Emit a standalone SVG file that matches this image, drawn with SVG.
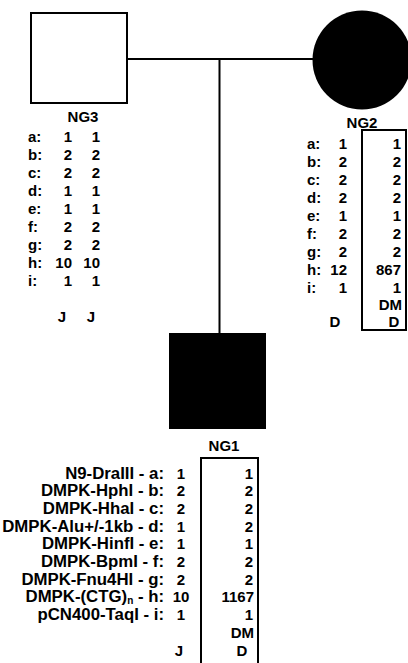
<svg xmlns="http://www.w3.org/2000/svg" width="408" height="663" viewBox="0 0 408 663">
<style>
text{font-family:"Liberation Sans",Arial,sans-serif;font-weight:bold;font-size:15px;fill:#000}
.r{text-anchor:end}
.m{text-anchor:middle}
.lb{font-size:16.8px;text-anchor:end}
.ln{stroke:#000;stroke-width:2;fill:none}
</style>
<rect width="408" height="663" fill="#fff"/>
<g id="connectors">
<line class="ln" x1="127" y1="59" x2="314" y2="59"/>
<line class="ln" x1="219.5" y1="59" x2="219.5" y2="333"/>
</g>
<g id="NG3">
<rect class="ln" x="31" y="13" width="96" height="90"/>
<text class="m" x="83" y="122">NG3</text>
<text x="28" y="141.5">a:</text><text class="r" x="72" y="141.5">1</text><text class="r" x="100" y="141.5">1</text>
<text x="28" y="159.5">b:</text><text class="r" x="72" y="159.5">2</text><text class="r" x="100" y="159.5">2</text>
<text x="28" y="177.5">c:</text><text class="r" x="72" y="177.5">2</text><text class="r" x="100" y="177.5">2</text>
<text x="28" y="195.5">d:</text><text class="r" x="72" y="195.5">1</text><text class="r" x="100" y="195.5">1</text>
<text x="28" y="213.5">e:</text><text class="r" x="72" y="213.5">1</text><text class="r" x="100" y="213.5">1</text>
<text x="28" y="231.5">f:</text><text class="r" x="72" y="231.5">2</text><text class="r" x="100" y="231.5">2</text>
<text x="28" y="249.5">g:</text><text class="r" x="72" y="249.5">2</text><text class="r" x="100" y="249.5">2</text>
<text x="28" y="267.5">h:</text><text class="r" x="72" y="267.5">10</text><text class="r" x="100" y="267.5">10</text>
<text x="28" y="285.5">i:</text><text class="r" x="72" y="285.5">1</text><text class="r" x="100" y="285.5">1</text>
<text class="m" x="62" y="322">J</text><text class="m" x="91" y="322">J</text>
</g>
<g id="NG2">
<circle cx="362" cy="60" r="49.5" fill="#000"/>
<text class="m" x="362" y="127.5">NG2</text>
<rect class="ln" x="362" y="130" width="44" height="200"/>
<text x="307" y="148.5">a:</text><text class="r" x="347" y="148.5">1</text><text class="r" x="401" y="148.5">1</text>
<text x="307" y="166.5">b:</text><text class="r" x="347" y="166.5">2</text><text class="r" x="401" y="166.5">2</text>
<text x="307" y="184.5">c:</text><text class="r" x="347" y="184.5">2</text><text class="r" x="401" y="184.5">2</text>
<text x="307" y="202.5">d:</text><text class="r" x="347" y="202.5">2</text><text class="r" x="401" y="202.5">2</text>
<text x="307" y="220.5">e:</text><text class="r" x="347" y="220.5">1</text><text class="r" x="401" y="220.5">1</text>
<text x="307" y="238.5">f:</text><text class="r" x="347" y="238.5">2</text><text class="r" x="401" y="238.5">2</text>
<text x="307" y="256.5">g:</text><text class="r" x="347" y="256.5">2</text><text class="r" x="401" y="256.5">2</text>
<text x="307" y="274.5">h:</text><text class="r" x="347" y="274.5">12</text><text class="r" x="401" y="274.5">867</text>
<text x="307" y="292.5">i:</text><text class="r" x="347" y="292.5">1</text><text class="r" x="401" y="292.5">1</text>
<text class="r" x="402" y="310">DM</text>
<text class="m" x="335" y="327">D</text><text class="m" x="394" y="327">D</text>
</g>
<g id="NG1">
<rect x="169" y="333" width="97" height="96" fill="#000"/>
<text class="m" x="224" y="450.5">NG1</text>
<path class="ln" d="M201,664 V458 H258 V664"/>
<text class="lb" x="164" y="478.5">N9-DraIII - a:</text><text class="m" x="181" y="478.5">1</text><text class="r" x="253" y="478.5">1</text>
<text class="lb" x="164" y="496.2">DMPK-HphI - b:</text><text class="m" x="181" y="496.2">2</text><text class="r" x="253" y="496.2">2</text>
<text class="lb" x="164" y="513.9">DMPK-HhaI - c:</text><text class="m" x="181" y="513.9">2</text><text class="r" x="253" y="513.9">2</text>
<text class="lb" x="164" y="531.6">DMPK-Alu+/-1kb - d:</text><text class="m" x="181" y="531.6">1</text><text class="r" x="253" y="531.6">2</text>
<text class="lb" x="164" y="549.3">DMPK-HinfI - e:</text><text class="m" x="181" y="549.3">1</text><text class="r" x="253" y="549.3">1</text>
<text class="lb" x="164" y="567">DMPK-BpmI - f:</text><text class="m" x="181" y="567">2</text><text class="r" x="253" y="567">2</text>
<text class="lb" x="164" y="584.7">DMPK-Fnu4HI - g:</text><text class="m" x="181" y="584.7">2</text><text class="r" x="253" y="584.7">2</text>
<text class="lb" x="164" y="602.4">DMPK-(CTG)<tspan font-size="10" dy="2">n</tspan><tspan dy="-2"> - h:</tspan></text><text class="m" x="181" y="602.4">10</text><text class="r" x="254" y="602.4">1167</text>
<text class="lb" x="164" y="620.1">pCN400-TaqI - i:</text><text class="m" x="181" y="620.1">1</text><text class="r" x="253" y="620.1">1</text>
<text class="r" x="254" y="637.8">DM</text>
<text class="m" x="179" y="655.5">J</text><text class="m" x="242" y="655.5">D</text>
</g>
</svg>
